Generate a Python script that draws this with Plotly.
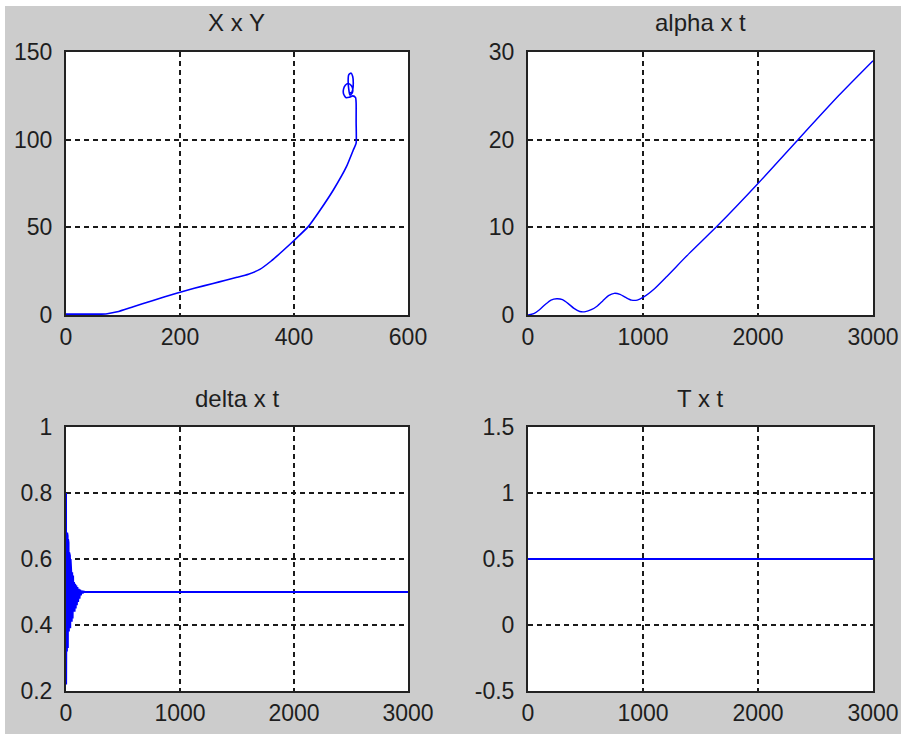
import plotly.graph_objects as go

# ---------------- data ----------------
# X x Y trajectory
xy_x = [0, 30, 70, 90, 118, 150, 194, 225, 258, 280, 300, 320, 340, 360, 380, 400, 425, 446, 469, 492, 504, 509,
        509, 509, 508, 503, 497, 491, 487, 487, 490, 495, 500, 503, 502, 498, 496, 495, 496, 500, 503, 504, 503, 500, 498]
xy_y = [0.5, 0.5, 0.6, 1.8, 4.7, 8.0, 12.4, 15.2, 18.0, 19.8, 21.5, 23.3, 26.0, 30.8, 36.5, 42.5, 50.4, 59.9, 71.3, 84.6, 94.1, 98.0,
        110.0, 120.8, 124.0, 125.0, 124.2, 124.0, 126.0, 129.0, 131.0, 132.0, 131.0, 129.0, 126.5, 125.5, 129.0, 133.5, 137.0, 138.0, 136.0, 132.0, 128.5, 126.5, 127.0]

# alpha x t
alpha_t = [0, 50, 100, 150, 200, 250, 300, 350, 400, 450, 500, 550, 600, 650, 700, 750, 800, 850, 900, 950,
           1000, 1100, 1200, 1400, 1650, 2000, 2348, 2700, 3000]
alpha_v = [0.0, 0.15, 0.6, 1.2, 1.7, 1.85, 1.75, 1.3, 0.75, 0.4, 0.38, 0.6, 1.0, 1.6, 2.2, 2.47, 2.35, 2.0, 1.7, 1.7,
           2.0, 3.0, 4.3, 7.0, 10.2, 15.0, 20.0, 25.0, 29.0]

# delta x t
delta_t = [0, 1, 2, 3, 4, 5, 6, 8, 10, 12, 14, 16, 18, 20, 22, 25, 28, 31, 34, 37, 40, 43, 46, 50, 54, 58, 62, 66, 70,
           75, 80, 85, 90, 95, 100, 106, 112, 118, 124, 130, 138, 146, 155, 170, 3000]
delta_v = [0.80, 0.22, 0.79, 0.24, 0.72, 0.30, 0.68, 0.32, 0.68, 0.32, 0.67, 0.33, 0.66, 0.33, 0.65, 0.38, 0.62, 0.38,
           0.61, 0.39, 0.60, 0.40, 0.56, 0.41, 0.56, 0.42, 0.55, 0.44, 0.53, 0.44, 0.525, 0.45, 0.52, 0.46, 0.515, 0.47,
           0.51, 0.48, 0.507, 0.49, 0.504, 0.496, 0.501, 0.50, 0.50]

# T x t
T_t = [0, 3000]
T_v = [0.5, 0.5]

titles = ["X x Y", "alpha x t", "delta x t", "T x t"]

xy_xticks = [0, 200, 400, 600]
xy_yticks = [0, 50, 100, 150]
t_ticks = [0, 1000, 2000, 3000]
alpha_yticks = [0, 10, 20, 30]
delta_yticks = [0.2, 0.4, 0.6, 0.8, 1.0]
delta_ylabels = ["0.2", "0.4", "0.6", "0.8", "1"]
T_yticks = [-0.5, 0, 0.5, 1, 1.5]
T_ylabels = ["-0.5", "0", "0.5", "1", "1.5"]

# ---------------- figure ----------------
W, H = 901, 734
BLUE = "#0000ff"
GRAY = "#cccccc"
FONT = "Liberation Sans, Arial, sans-serif"

fig = go.Figure()
fig.add_trace(go.Scatter(x=xy_x, y=xy_y, mode="lines", line=dict(color=BLUE, width=1.6, shape="spline", smoothing=0.5),
                         xaxis="x", yaxis="y"))
fig.add_trace(go.Scatter(x=alpha_t, y=alpha_v, mode="lines", line=dict(color=BLUE, width=1.4, shape="spline", smoothing=0.6),
                         xaxis="x2", yaxis="y2"))
fig.add_trace(go.Scatter(x=delta_t, y=delta_v, mode="lines", line=dict(color=BLUE, width=2), xaxis="x3", yaxis="y3"))
fig.add_trace(go.Scatter(x=T_t, y=T_v, mode="lines", line=dict(color=BLUE, width=2), xaxis="x4", yaxis="y4"))

# pixel geometry of plot areas (left, right, top, bottom)
areas = [(66, 408, 52, 315), (528, 873, 52, 315), (66, 408, 427, 691), (528, 873, 427, 691)]

def common(**kw):
    d = dict(showline=True, mirror=True, linecolor="#222222", linewidth=2, automargin=False,
             showgrid=True, gridcolor="#1a1a1a", gridwidth=1.5, griddash="5px,4px",
             zeroline=False, ticks="", tickfont=dict(family=FONT, size=23, color="#1e1e1e"),
             fixedrange=True)
    d.update(kw)
    return d

xcfg = [
    dict(range=[0, 600], tickvals=xy_xticks, ticktext=[str(v) for v in xy_xticks]),
    dict(range=[0, 3000], tickvals=t_ticks, ticktext=[str(v) for v in t_ticks]),
    dict(range=[0, 3000], tickvals=t_ticks, ticktext=[str(v) for v in t_ticks]),
    dict(range=[0, 3000], tickvals=t_ticks, ticktext=[str(v) for v in t_ticks]),
]
ycfg = [
    dict(range=[0, 150], tickvals=xy_yticks, ticktext=[str(v) for v in xy_yticks]),
    dict(range=[0, 30], tickvals=alpha_yticks, ticktext=[str(v) for v in alpha_yticks]),
    dict(range=[0.2, 1.0], tickvals=delta_yticks, ticktext=delta_ylabels),
    dict(range=[-0.5, 1.5], tickvals=T_yticks, ticktext=T_ylabels),
]

layout = dict(width=W, height=H, margin=dict(l=0, r=0, t=0, b=0, autoexpand=False),
              paper_bgcolor=GRAY, plot_bgcolor="white", showlegend=False)
annotations = []
for i, (l, r, t, b) in enumerate(areas):
    sfx = "" if i == 0 else str(i + 1)
    layout["xaxis" + sfx] = common(domain=[l / W, r / W], anchor="y" + sfx, ticklabelstandoff=0, **xcfg[i])
    layout["yaxis" + sfx] = common(domain=[1 - b / H, 1 - t / H], anchor="x" + sfx, ticklabelstandoff=7, **ycfg[i])
    annotations.append(dict(text=titles[i], xref="paper", yref="paper",
                            x=(l + r) / 2 / W, y=1 - (t - 29) / H, xanchor="center", yanchor="middle",
                            showarrow=False, font=dict(family=FONT, size=24, color="#1e1e1e")))
layout["annotations"] = annotations
layout["shapes"] = [
    dict(type="rect", xref="paper", yref="paper", x0=0, x1=5 / W, y0=0, y1=1,
         fillcolor="white", line=dict(width=0), layer="above"),
    dict(type="rect", xref="paper", yref="paper", x0=0, x1=1, y0=1 - 6 / H, y1=1,
         fillcolor="white", line=dict(width=0), layer="above"),
]
fig.update_layout(**layout)
fig.write_html("out.html")
